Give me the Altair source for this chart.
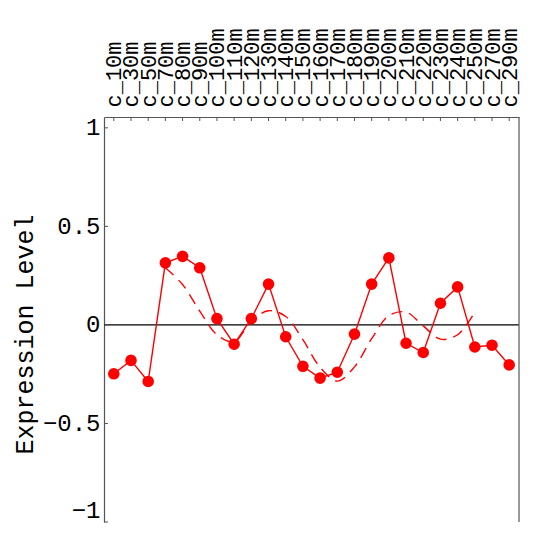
import altair as alt
import pandas as pd

categories = ["c_10m", "c_30m", "c_50m", "c_70m", "c_80m", "c_90m", "c_100m", "c_110m",
              "c_120m", "c_130m", "c_140m", "c_150m", "c_160m", "c_170m", "c_180m", "c_190m",
              "c_200m", "c_210m", "c_220m", "c_230m", "c_240m", "c_250m", "c_270m", "c_290m"]
expression = [-0.248, -0.18, -0.287, 0.315, 0.348, 0.29, 0.032, -0.098,
              0.032, 0.207, -0.06, -0.21, -0.27, -0.24, -0.047, 0.207,
              0.34, -0.093, -0.14, 0.11, 0.193, -0.112, -0.103, -0.203]
fit_categories = categories[3:22]
fit_values = [0.29, 0.205, 0.07, -0.05, -0.085, 0.02, 0.072, 0.043, -0.075, -0.215,
              -0.285, -0.213, -0.07, 0.047, 0.065, -0.005, -0.072, -0.05, 0.065]
y_ticks = [-1, -0.5, 0, 0.5, 1]

FONT = "Liberation Mono"
RED = "#ff0000"
FRAME = "#555555"

df = pd.DataFrame({"time": categories, "value": expression})
fit = pd.DataFrame({"time": fit_categories, "value": fit_values})
zero = pd.DataFrame({"value": [0]})
yt = pd.DataFrame({"value": y_ticks})
xt = pd.DataFrame({"time": categories})

W, H = 415, 405
xs = alt.Scale(type="point", domain=categories, padding=0.57)
ys = alt.Scale(domain=[-1.0, 1.055], nice=False, zero=False)

x_axis = alt.Axis(orient="top", labelAngle=-90, ticks=False, domain=True, domainColor=FRAME,
                  domainWidth=1.2, grid=False, labelFont=FONT, labelFontSize=22,
                  labelColor="black", labelPadding=10, title=None)
y_axis = alt.Axis(values=y_ticks, format=".1~f", ticks=False, domain=True, domainColor=FRAME,
                  domainWidth=1.2, grid=False, labelFont=FONT, labelFontSize=24,
                  labelColor="black", labelPadding=4,
                  labelBaseline=alt.condition("datum.value == -1", alt.value("bottom"),
                                              alt.value("middle")),
                  title="Expression Level", titleFont=FONT, titleFontSize=25,
                  titleFontWeight="normal", titleColor="black", titleAngle=-90,
                  titleAlign="center", titleBaseline="middle", titleX=-80, titleY=217)

X = alt.X("time:N", scale=xs, axis=x_axis, sort=categories)
Y = alt.Y("value:Q", scale=ys, axis=y_axis)

zero_rule = alt.Chart(zero).mark_rule(color="black", strokeWidth=1.2).encode(y=Y)
fit_line = alt.Chart(fit).mark_line(color=RED, strokeWidth=1.4, strokeDash=[11, 7],
                                    interpolate="catmull-rom").encode(x=X, y=Y)
data_line = alt.Chart(df).mark_line(color=RED, strokeWidth=1.4).encode(x=X, y=Y)
circles = alt.Chart(df).mark_circle(color=RED, opacity=1, size=135).encode(x=X, y=Y)
top_ticks = alt.Chart(xt).mark_rule(color=FRAME, strokeWidth=1).encode(
    x=X, y=alt.value(0), y2=alt.value(4))
left_ticks = alt.Chart(yt).mark_rule(color=FRAME, strokeWidth=1).encode(
    y=Y, x=alt.value(0), x2=alt.value(4))
right_edge = alt.Chart(zero).mark_rule(color=FRAME, strokeWidth=1.2).encode(
    x=alt.value(W), y=alt.value(0), y2=alt.value(H))

chart = alt.layer(zero_rule, fit_line, data_line, circles, top_ticks, left_ticks,
                  right_edge).properties(
    width=W, height=H,
    autosize=alt.AutoSizeParams(type="none"),
    padding={"left": 96, "top": 109, "right": 6, "bottom": 3},
    background="white",
).configure_view(stroke=None)

chart.save("out.html", embed_options={"renderer": "svg", "actions": False})
